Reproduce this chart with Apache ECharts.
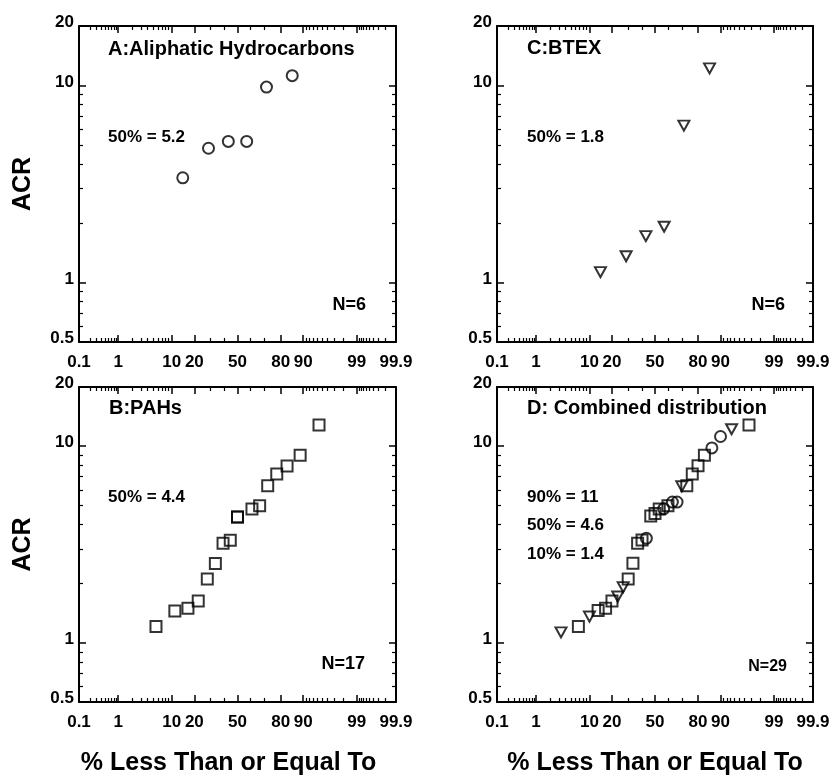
<!DOCTYPE html>
<html>
<head>
<meta charset="utf-8">
<script src="https://cdn.jsdelivr.net/npm/echarts@6/dist/echarts.min.js"></script>
<style>
html,body{margin:0;padding:0;background:#fff;}
#chart{width:835px;height:777px;}
</style>
</head>
<body>
<div id="chart"></div>
<script>
// ---------------- DATA ----------------
// Panel A: Aliphatic Hydrocarbons (circles)
const pctA = [14.3, 28.6, 42.9, 57.1, 71.4, 85.7];
const acrA = [3.4, 4.8, 5.2, 5.2, 9.8, 11.2];
// Panel B: PAHs (squares)
const pctB = [5.6, 11.1, 16.7, 22.2, 27.8, 33.3, 38.9, 44.4, 50.0, 50.0, 61.1, 66.7, 72.2, 77.8, 83.3, 88.9, 94.4];
const acrB = [1.21, 1.45, 1.50, 1.63, 2.11, 2.53, 3.21, 3.32, 4.36, 4.36, 4.79, 4.98, 6.3, 7.21, 7.92, 9.0, 12.8];
// Panel C: BTEX (down triangles)
const pctC = [14.3, 28.6, 42.9, 57.1, 71.4, 85.7];
const acrC = [1.13, 1.36, 1.72, 1.92, 6.25, 12.2];
// Panel D: combined distribution, split by marker type
const pctDcircle = [43.3, 56.7, 63.3, 66.7, 86.7, 90.0];
const acrDcircle = [3.4, 4.8, 5.2, 5.2, 9.8, 11.2];
const pctDtri = [3.3, 10.0, 23.3, 26.7, 70.0, 93.3];
const acrDtri = [1.13, 1.36, 1.72, 1.92, 6.25, 12.2];
const pctDsq = [6.7, 13.3, 16.7, 20.0, 30.0, 33.3, 36.7, 40.0, 46.7, 50.0, 53.3, 60.0, 73.3, 76.7, 80.0, 83.3, 96.7];
const acrDsq = [1.21, 1.46, 1.50, 1.63, 2.11, 2.54, 3.21, 3.33, 4.41, 4.55, 4.79, 4.98, 6.3, 7.21, 7.95, 9.0, 12.8];

// Tick labels / tick positions
const xLabelText = ['0.1', '1', '10', '20', '50', '80', '90', '99', '99.9'];
const xLabelPct = [0.1, 1, 10, 20, 50, 80, 90, 99, 99.9];
const xMajorPct = [1, 10, 20, 50, 80, 90, 99];
const xMinorPct = [0.2, 0.3, 0.4, 0.5, 0.6, 0.7, 0.8, 0.9,
                   2, 3, 4, 5, 6, 7, 8, 9,
                   30, 40, 60, 70,
                   91, 92, 93, 94, 95, 96, 97, 98,
                   99.1, 99.2, 99.3, 99.4, 99.5, 99.6, 99.7, 99.8];
const yLabelVals = [0.5, 1, 10, 20];
const yMajorVals = [1, 10];
const yMinorVals = [0.6, 0.7, 0.8, 0.9, 2, 3, 4, 5, 6, 7, 8, 9];

const yTitle = 'ACR';
const xTitle = '% Less Than or Equal To';

// ---------------- probability (probit) scale ----------------
function probit(p) {
  const a = [-3.969683028665376e+01, 2.209460984245205e+02, -2.759285104469687e+02, 1.383577518672690e+02, -3.066479806614716e+01, 2.506628277459239e+00];
  const b = [-5.447609879822406e+01, 1.615858368580409e+02, -1.556989798598866e+02, 6.680131188771972e+01, -1.328068155288572e+01];
  const c = [-7.784894002430293e-03, -3.223964580411365e-01, -2.400758277161838e+00, -2.549671348940510e+00, 4.374664141464968e+00, 2.938163982698783e+00];
  const d = [7.784695709041462e-03, 3.224671290700398e-01, 2.445134137142996e+00, 3.754408661907416e+00];
  const pl = 0.02425, ph = 1 - pl;
  let q, r;
  if (p < pl) {
    q = Math.sqrt(-2 * Math.log(p));
    return (((((c[0]*q+c[1])*q+c[2])*q+c[3])*q+c[4])*q+c[5]) / ((((d[0]*q+d[1])*q+d[2])*q+d[3])*q+1);
  }
  if (p <= ph) {
    q = p - 0.5; r = q * q;
    return (((((a[0]*r+a[1])*r+a[2])*r+a[3])*r+a[4])*r+a[5])*q / (((((b[0]*r+b[1])*r+b[2])*r+b[3])*r+b[4])*r+1);
  }
  q = Math.sqrt(-2 * Math.log(1 - p));
  return -(((((c[0]*q+c[1])*q+c[2])*q+c[3])*q+c[4])*q+c[5]) / ((((d[0]*q+d[1])*q+d[2])*q+d[3])*q+1);
}
const toZ = p => probit(p / 100);
const labelZ = xLabelPct.map(toZ);
const XMIN = labelZ[0] - 1e-9;
const XMAX = labelZ[labelZ.length - 1] + 1e-9;
function fmtX(v) {
  let best = 0, bd = Infinity;
  labelZ.forEach((z, i) => { const dd = Math.abs(z - v); if (dd < bd) { bd = dd; best = i; } });
  return xLabelText[best];
}
function fmtY(v) { return String(+Number(v).toPrecision(6)); }

// ---------------- layout / style ----------------
const FONT = "'Liberation Sans', Arial, Helvetica, sans-serif";
const BLACK = '#000';
const grids = [
  { left: 79,  top: 26,  width: 317, height: 316 }, // A
  { left: 79,  top: 387, width: 317, height: 315 }, // B
  { left: 497, top: 26,  width: 316, height: 316 }, // C
  { left: 497, top: 387, width: 316, height: 315 }  // D
].map(g => Object.assign({ outerBoundsMode: 'none', containLabel: false }, g));

const lineStyle = { color: BLACK, width: 2 };
const labelStyle = { color: BLACK, fontSize: 17, fontWeight: 'bold', fontFamily: FONT };
const nameStyle = { color: BLACK, fontSize: 25, fontWeight: 'bold', fontFamily: FONT };

function makeX(gi, pos, major, showLabel, name, nameShift) {
  return {
    gridIndex: gi, type: 'value', position: pos, min: XMIN, max: XMAX,
    splitLine: { show: false }, silent: true,
    axisLine: { show: major, onZero: false, lineStyle: lineStyle },
    axisTick: { show: true, inside: true, length: major ? 7 : 4,
                customValues: (major ? xMajorPct : xMinorPct).map(toZ),
                lineStyle: { color: BLACK, width: major ? 1.5 : 1.2 } },
    axisLabel: showLabel ? Object.assign({ show: true, customValues: labelZ, formatter: fmtX, margin: 12, hideOverlap: false }, labelStyle) : { show: false },
    name: name || '', nameLocation: 'middle', nameGap: 49,
    nameTextStyle: Object.assign({ padding: [0, nameShift || 0, 0, 0] }, nameStyle),
    axisPointer: { show: false }
  };
}
function makeY(gi, pos, major, showLabel, name) {
  return {
    gridIndex: gi, type: 'log', logBase: 10, position: pos, min: 0.5, max: 20,
    splitLine: { show: false }, minorTick: { show: false }, silent: true,
    axisLine: { show: major, onZero: false, lineStyle: lineStyle },
    axisTick: { show: true, inside: true, length: major ? 7 : 4,
                customValues: major ? yMajorVals : yMinorVals,
                lineStyle: { color: BLACK, width: major ? 1.5 : 1.2 } },
    axisLabel: showLabel ? Object.assign({ show: true, customValues: yLabelVals, formatter: fmtY, margin: 5,
                verticalAlign: 'bottom', lineHeight: 7, hideOverlap: false }, labelStyle) : { show: false },
    name: name || '', nameLocation: 'middle', nameGap: 43, nameRotate: 90,
    nameTextStyle: nameStyle,
    axisPointer: { show: false }
  };
}

const xAxis = [], yAxis = [];
grids.forEach((g, gi) => {
  const bottomName = (gi === 1 || gi === 3) ? xTitle : '';
  const shift = gi === 1 ? 18 : 0;
  const leftName = (gi === 0 || gi === 1) ? yTitle : '';
  xAxis.push(makeX(gi, 'bottom', true, true, bottomName, shift));
  xAxis.push(makeX(gi, 'bottom', false, false));
  xAxis.push(makeX(gi, 'top', true, false));
  xAxis.push(makeX(gi, 'top', false, false));
  yAxis.push(makeY(gi, 'left', true, true, leftName));
  yAxis.push(makeY(gi, 'left', false, false));
  yAxis.push(makeY(gi, 'right', true, false));
  yAxis.push(makeY(gi, 'right', false, false));
});

const markerStyle = { color: 'rgba(0,0,0,0)', borderColor: BLACK, borderWidth: 2 };
function scatter(gi, pct, acr, symbol, size, rotate) {
  return {
    type: 'scatter', xAxisIndex: gi * 4, yAxisIndex: gi * 4,
    data: pct.map((p, i) => [toZ(p), acr[i]]),
    symbol: symbol, symbolSize: size, symbolRotate: rotate || 0,
    itemStyle: markerStyle, silent: true, animation: false,
    emphasis: { disabled: true }
  };
}
const series = [
  scatter(0, pctA, acrA, 'circle', 11),
  scatter(1, pctB, acrB, 'rect', 11),
  scatter(2, pctC, acrC, 'triangle', [11, 10], 180),
  scatter(3, pctDsq, acrDsq, 'rect', 11),
  scatter(3, pctDcircle, acrDcircle, 'circle', 11),
  scatter(3, pctDtri, acrDtri, 'triangle', [11, 10], 180)
];

function txt(x, y, text, size, align) {
  return { type: 'text', x: x, y: y, silent: true,
           style: { text: text, font: 'bold ' + size + 'px ' + FONT, fill: BLACK,
                    align: align || 'left', verticalAlign: 'middle' } };
}
const graphic = [
  txt(108, 49, 'A:Aliphatic Hydrocarbons', 20),
  txt(108, 137, '50% = 5.2', 17),
  txt(366, 305, 'N=6', 18, 'right'),
  txt(109, 408, 'B:PAHs', 20),
  txt(108, 497, '50% = 4.4', 17),
  txt(365, 664, 'N=17', 18, 'right'),
  txt(527, 48, 'C:BTEX', 20),
  txt(527, 137, '50% = 1.8', 17),
  txt(785, 305, 'N=6', 18, 'right'),
  txt(527, 408, 'D: Combined distribution', 20),
  txt(527, 497, '90% = 11', 17),
  txt(527, 525, '50% = 4.6', 17),
  txt(527, 554, '10% = 1.4', 17),
  txt(787, 667, 'N=29', 16, 'right')
];

const chart = echarts.init(document.getElementById('chart'), null, { renderer: 'canvas' });
chart.setOption({
  backgroundColor: '#fff',
  animation: false,
  grid: grids,
  xAxis: xAxis,
  yAxis: yAxis,
  series: series,
  graphic: graphic
});
</script>
</body>
</html>
